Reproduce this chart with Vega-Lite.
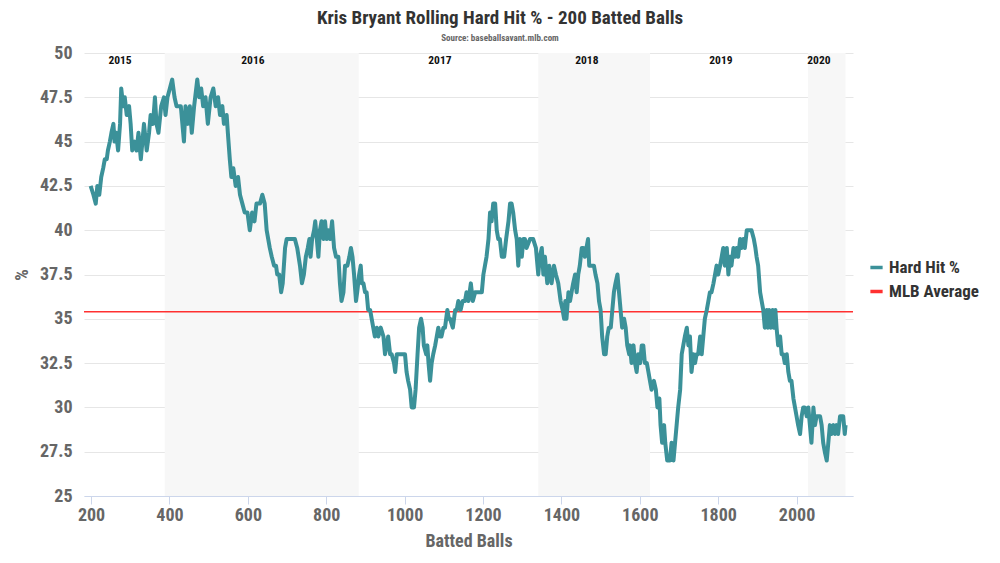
{
  "$schema": "https://vega.github.io/schema/vega-lite/v6.json",
  "width": 769,
  "height": 443,
  "autosize": {"type": "none"},
  "padding": {"left": 84, "top": 53, "right": 147, "bottom": 67},
  "background": "white",
  "title": {
    "text": "Kris Bryant Rolling Hard Hit % - 200 Batted Balls",
    "subtitle": "Source: baseballsavant.mlb.com",
    "anchor": "middle",
    "dx": 31.5,
    "font": "Roboto Condensed, Liberation Sans Narrow, DejaVu Sans Condensed, Roboto",
    "fontSize": 19,
    "fontWeight": "bold",
    "color": "#333333",
    "subtitleFont": "Roboto Condensed, Liberation Sans Narrow, DejaVu Sans Condensed, Roboto",
    "subtitleFontSize": 9,
    "subtitleFontWeight": "bold",
    "subtitleColor": "#666666",
    "subtitlePadding": 6,
    "offset": 1
  },
  "config": {
    "view": {"stroke": null},
    "font": "Roboto Condensed, Liberation Sans Narrow, DejaVu Sans Condensed, Roboto",
    "axisY": {
      "grid": true,
      "gridColor": "#e6e6e6",
      "domain": false,
      "ticks": false,
      "labelFontSize": 18,
      "labelFontWeight": "bold",
      "labelColor": "#666666",
      "labelPadding": 12,
      "titleFontSize": 18,
      "titleFontWeight": "bold",
      "titleColor": "#666666",
      "titlePadding": 8
    },
    "axisX": {
      "grid": false,
      "domainColor": "#ccd6eb",
      "tickColor": "#ccd6eb",
      "tickSize": 8,
      "labelFontSize": 18,
      "labelFontWeight": "bold",
      "labelColor": "#666666",
      "labelPadding": 2,
      "titleFontSize": 18,
      "titleFontWeight": "bold",
      "titleColor": "#666666",
      "titlePadding": 8
    },
    "legend": {
      "orient": "none",
      "legendX": 784,
      "legendY": 206,
      "symbolType": "stroke",
      "symbolStrokeWidth": 3.5,
      "symbolSize": 150,
      "labelFontSize": 17,
      "labelFontWeight": "bold",
      "labelColor": "#333333",
      "rowPadding": 6,
      "title": null
    }
  },
  "datasets": {
    "bands": [
      {"s": 388, "e": 883},
      {"s": 1341, "e": 1626},
      {"s": 2029, "e": 2125}
    ],
    "years": [
      {"b": 274, "yr": "2015"},
      {"b": 613, "yr": "2016"},
      {"b": 1090, "yr": "2017"},
      {"b": 1465, "yr": "2018"},
      {"b": 1807, "yr": "2019"},
      {"b": 2057, "yr": "2020"}
    ],
    "rolling": [
      {"b": 199, "h": 42.5}, {"b": 206, "h": 42}, {"b": 212, "h": 41.5}, {"b": 216, "h": 42.5},
      {"b": 221, "h": 42}, {"b": 226, "h": 43}, {"b": 231, "h": 43.5}, {"b": 235, "h": 44},
      {"b": 240, "h": 44}, {"b": 243, "h": 44.5}, {"b": 248, "h": 45}, {"b": 252, "h": 45.5},
      {"b": 257, "h": 46}, {"b": 260, "h": 45}, {"b": 264, "h": 45.5}, {"b": 269, "h": 44.5},
      {"b": 274, "h": 46}, {"b": 277, "h": 48}, {"b": 282, "h": 47}, {"b": 286, "h": 47.5},
      {"b": 291, "h": 46.5}, {"b": 297, "h": 47}, {"b": 301, "h": 46}, {"b": 305, "h": 44.5},
      {"b": 311, "h": 45}, {"b": 316, "h": 44.5}, {"b": 321, "h": 45.5}, {"b": 327, "h": 44},
      {"b": 331, "h": 45}, {"b": 335, "h": 46}, {"b": 342, "h": 44.5}, {"b": 348, "h": 45.5},
      {"b": 352, "h": 46.5}, {"b": 358, "h": 46}, {"b": 363, "h": 47.5}, {"b": 367, "h": 46},
      {"b": 372, "h": 45.5}, {"b": 379, "h": 47}, {"b": 386, "h": 47.5}, {"b": 390, "h": 46.5},
      {"b": 395, "h": 47.5}, {"b": 401, "h": 48}, {"b": 407, "h": 48.5}, {"b": 413, "h": 47.5},
      {"b": 418, "h": 47}, {"b": 429, "h": 47}, {"b": 437, "h": 45}, {"b": 441, "h": 47},
      {"b": 447, "h": 46}, {"b": 452, "h": 47}, {"b": 457, "h": 45.5}, {"b": 463, "h": 47},
      {"b": 471, "h": 48.5}, {"b": 476, "h": 47.5}, {"b": 481, "h": 48}, {"b": 486, "h": 47},
      {"b": 492, "h": 47.5}, {"b": 498, "h": 46}, {"b": 505, "h": 47.5}, {"b": 512, "h": 48},
      {"b": 518, "h": 47}, {"b": 524, "h": 47.5}, {"b": 529, "h": 46.5}, {"b": 535, "h": 47},
      {"b": 539, "h": 46}, {"b": 546, "h": 46.5}, {"b": 549, "h": 45.5}, {"b": 554, "h": 44},
      {"b": 558, "h": 43}, {"b": 563, "h": 43.5}, {"b": 569, "h": 42.5}, {"b": 575, "h": 43},
      {"b": 580, "h": 42}, {"b": 586, "h": 41.5}, {"b": 592, "h": 41}, {"b": 599, "h": 41},
      {"b": 605, "h": 40}, {"b": 611, "h": 41}, {"b": 617, "h": 40.5}, {"b": 622, "h": 41.5},
      {"b": 631, "h": 41.5}, {"b": 637, "h": 42}, {"b": 643, "h": 41.5}, {"b": 648, "h": 40},
      {"b": 656, "h": 39}, {"b": 661, "h": 38.5}, {"b": 667, "h": 38}, {"b": 672, "h": 38},
      {"b": 675, "h": 37.5}, {"b": 680, "h": 37.5}, {"b": 685, "h": 36.5}, {"b": 689, "h": 37},
      {"b": 695, "h": 39}, {"b": 699, "h": 39.5}, {"b": 708, "h": 39.5}, {"b": 720, "h": 39.5},
      {"b": 726, "h": 39}, {"b": 733, "h": 38}, {"b": 738, "h": 37}, {"b": 743, "h": 37.5},
      {"b": 748, "h": 38.5}, {"b": 753, "h": 39}, {"b": 757, "h": 39.5}, {"b": 760, "h": 38.5},
      {"b": 764, "h": 39.5}, {"b": 769, "h": 40}, {"b": 772, "h": 40.5}, {"b": 776, "h": 39.5},
      {"b": 780, "h": 38.5}, {"b": 784, "h": 40}, {"b": 788, "h": 40.5}, {"b": 793, "h": 39.5},
      {"b": 797, "h": 40.5}, {"b": 801, "h": 39.5}, {"b": 805, "h": 40}, {"b": 810, "h": 39.5},
      {"b": 815, "h": 40.5}, {"b": 820, "h": 39}, {"b": 825, "h": 38.5}, {"b": 831, "h": 38.5},
      {"b": 835, "h": 37}, {"b": 839, "h": 36}, {"b": 844, "h": 36.5}, {"b": 848, "h": 38},
      {"b": 854, "h": 38}, {"b": 859, "h": 38.5}, {"b": 863, "h": 39}, {"b": 867, "h": 38.5},
      {"b": 871, "h": 37.5}, {"b": 876, "h": 36}, {"b": 879, "h": 36.5}, {"b": 884, "h": 37.5},
      {"b": 888, "h": 38}, {"b": 891, "h": 37}, {"b": 895, "h": 37}, {"b": 899, "h": 36.5},
      {"b": 903, "h": 36.5}, {"b": 907, "h": 35.5}, {"b": 912, "h": 35.5}, {"b": 916, "h": 35},
      {"b": 920, "h": 34.5}, {"b": 924, "h": 34}, {"b": 929, "h": 34.5}, {"b": 933, "h": 34},
      {"b": 939, "h": 34.5}, {"b": 946, "h": 34}, {"b": 950, "h": 33}, {"b": 954, "h": 33.5},
      {"b": 958, "h": 34}, {"b": 963, "h": 33}, {"b": 967, "h": 33}, {"b": 973, "h": 32.5},
      {"b": 976, "h": 32}, {"b": 980, "h": 33}, {"b": 993, "h": 33}, {"b": 1001, "h": 33},
      {"b": 1005, "h": 32}, {"b": 1009, "h": 31.5}, {"b": 1014, "h": 31}, {"b": 1018, "h": 30},
      {"b": 1024, "h": 30}, {"b": 1028, "h": 31}, {"b": 1033, "h": 33}, {"b": 1037, "h": 34.5},
      {"b": 1042, "h": 35}, {"b": 1046, "h": 34.5}, {"b": 1049, "h": 33.5}, {"b": 1055, "h": 33},
      {"b": 1058, "h": 33.5}, {"b": 1061, "h": 32.5}, {"b": 1065, "h": 31.5}, {"b": 1069, "h": 32.5},
      {"b": 1073, "h": 33}, {"b": 1078, "h": 33.5}, {"b": 1082, "h": 34}, {"b": 1086, "h": 34.5},
      {"b": 1090, "h": 34}, {"b": 1094, "h": 34}, {"b": 1099, "h": 34.5}, {"b": 1103, "h": 34.5},
      {"b": 1109, "h": 35.5}, {"b": 1113, "h": 35}, {"b": 1116, "h": 35}, {"b": 1123, "h": 34.5},
      {"b": 1129, "h": 35.5}, {"b": 1133, "h": 35.5}, {"b": 1137, "h": 36}, {"b": 1143, "h": 35.5},
      {"b": 1148, "h": 36}, {"b": 1154, "h": 36}, {"b": 1158, "h": 36.5}, {"b": 1163, "h": 36},
      {"b": 1169, "h": 37}, {"b": 1174, "h": 36}, {"b": 1180, "h": 36.5}, {"b": 1188, "h": 36.5},
      {"b": 1197, "h": 36.5}, {"b": 1201, "h": 37.5}, {"b": 1205, "h": 38}, {"b": 1209, "h": 38.5},
      {"b": 1214, "h": 39.5}, {"b": 1218, "h": 41}, {"b": 1222, "h": 40.5}, {"b": 1226, "h": 41.5},
      {"b": 1231, "h": 41.5}, {"b": 1235, "h": 40}, {"b": 1239, "h": 39.5}, {"b": 1243, "h": 39.5},
      {"b": 1248, "h": 38.5}, {"b": 1254, "h": 38.5}, {"b": 1259, "h": 39.5}, {"b": 1265, "h": 40.5},
      {"b": 1269, "h": 41.5}, {"b": 1273, "h": 41.5}, {"b": 1277, "h": 41}, {"b": 1282, "h": 40},
      {"b": 1286, "h": 39.5}, {"b": 1290, "h": 38}, {"b": 1294, "h": 39.5}, {"b": 1299, "h": 38.5},
      {"b": 1303, "h": 39.5}, {"b": 1307, "h": 39.5}, {"b": 1311, "h": 39}, {"b": 1320, "h": 39.5},
      {"b": 1328, "h": 39.5}, {"b": 1335, "h": 39}, {"b": 1341, "h": 37.5}, {"b": 1345, "h": 38.5},
      {"b": 1350, "h": 39}, {"b": 1354, "h": 37.5}, {"b": 1358, "h": 38.5}, {"b": 1364, "h": 37},
      {"b": 1369, "h": 38}, {"b": 1375, "h": 37}, {"b": 1381, "h": 38}, {"b": 1386, "h": 37.5},
      {"b": 1392, "h": 37}, {"b": 1398, "h": 36}, {"b": 1403, "h": 35.5}, {"b": 1407, "h": 35},
      {"b": 1410, "h": 36}, {"b": 1413, "h": 35}, {"b": 1418, "h": 36.5}, {"b": 1422, "h": 36},
      {"b": 1426, "h": 36.5}, {"b": 1430, "h": 37}, {"b": 1435, "h": 37.5}, {"b": 1439, "h": 36.5},
      {"b": 1443, "h": 37.5}, {"b": 1447, "h": 38}, {"b": 1452, "h": 39}, {"b": 1456, "h": 39},
      {"b": 1460, "h": 38.5}, {"b": 1464, "h": 39}, {"b": 1468, "h": 39.5}, {"b": 1471, "h": 38},
      {"b": 1477, "h": 38}, {"b": 1483, "h": 38}, {"b": 1487, "h": 37.5}, {"b": 1492, "h": 37},
      {"b": 1496, "h": 36}, {"b": 1500, "h": 35.5}, {"b": 1504, "h": 34}, {"b": 1509, "h": 33},
      {"b": 1513, "h": 33}, {"b": 1517, "h": 34}, {"b": 1521, "h": 34.5}, {"b": 1526, "h": 34.5},
      {"b": 1530, "h": 35.5}, {"b": 1534, "h": 36.5}, {"b": 1538, "h": 37}, {"b": 1543, "h": 37.5},
      {"b": 1547, "h": 36.5}, {"b": 1551, "h": 35.5}, {"b": 1555, "h": 34.5}, {"b": 1560, "h": 35},
      {"b": 1564, "h": 34.5}, {"b": 1568, "h": 33.5}, {"b": 1573, "h": 33}, {"b": 1575, "h": 33.5},
      {"b": 1579, "h": 32.5}, {"b": 1584, "h": 33.5}, {"b": 1588, "h": 32.5}, {"b": 1592, "h": 32},
      {"b": 1596, "h": 33}, {"b": 1601, "h": 32.5}, {"b": 1605, "h": 33.5}, {"b": 1609, "h": 33.5},
      {"b": 1613, "h": 32.5}, {"b": 1618, "h": 32.5}, {"b": 1622, "h": 32}, {"b": 1626, "h": 31.5},
      {"b": 1630, "h": 31}, {"b": 1636, "h": 31.5}, {"b": 1641, "h": 31}, {"b": 1645, "h": 30},
      {"b": 1650, "h": 30.5}, {"b": 1653, "h": 29}, {"b": 1657, "h": 28}, {"b": 1662, "h": 29},
      {"b": 1665, "h": 28}, {"b": 1670, "h": 27}, {"b": 1677, "h": 27}, {"b": 1681, "h": 28},
      {"b": 1686, "h": 27}, {"b": 1690, "h": 28}, {"b": 1694, "h": 29}, {"b": 1698, "h": 30},
      {"b": 1703, "h": 31}, {"b": 1707, "h": 33}, {"b": 1711, "h": 33.5}, {"b": 1715, "h": 34},
      {"b": 1720, "h": 34.5}, {"b": 1724, "h": 33.5}, {"b": 1728, "h": 34}, {"b": 1732, "h": 32},
      {"b": 1737, "h": 33}, {"b": 1741, "h": 32.5}, {"b": 1745, "h": 33}, {"b": 1749, "h": 33},
      {"b": 1754, "h": 34}, {"b": 1758, "h": 33}, {"b": 1762, "h": 34}, {"b": 1766, "h": 35},
      {"b": 1771, "h": 35.5}, {"b": 1775, "h": 36}, {"b": 1779, "h": 36.5}, {"b": 1783, "h": 36.5},
      {"b": 1788, "h": 37}, {"b": 1792, "h": 37.5}, {"b": 1796, "h": 38}, {"b": 1800, "h": 37.5},
      {"b": 1805, "h": 38}, {"b": 1809, "h": 38.5}, {"b": 1813, "h": 39}, {"b": 1817, "h": 38},
      {"b": 1822, "h": 39}, {"b": 1826, "h": 37.5}, {"b": 1830, "h": 38.5}, {"b": 1834, "h": 38},
      {"b": 1839, "h": 39}, {"b": 1843, "h": 38.5}, {"b": 1847, "h": 39}, {"b": 1851, "h": 38.5},
      {"b": 1856, "h": 39.5}, {"b": 1860, "h": 39}, {"b": 1864, "h": 39.5}, {"b": 1868, "h": 39},
      {"b": 1873, "h": 40}, {"b": 1877, "h": 40}, {"b": 1885, "h": 40}, {"b": 1891, "h": 39.5},
      {"b": 1895, "h": 39}, {"b": 1898, "h": 38.5}, {"b": 1902, "h": 38}, {"b": 1907, "h": 36.5},
      {"b": 1911, "h": 36}, {"b": 1915, "h": 35.5}, {"b": 1919, "h": 34.5}, {"b": 1924, "h": 35.5},
      {"b": 1927, "h": 34.5}, {"b": 1930, "h": 35.5}, {"b": 1934, "h": 34.5}, {"b": 1939, "h": 35.5},
      {"b": 1942, "h": 34.5}, {"b": 1946, "h": 35.5}, {"b": 1949, "h": 34.5}, {"b": 1953, "h": 33.5},
      {"b": 1958, "h": 34}, {"b": 1962, "h": 33}, {"b": 1966, "h": 33}, {"b": 1970, "h": 32.5},
      {"b": 1975, "h": 33}, {"b": 1979, "h": 32}, {"b": 1983, "h": 31.5}, {"b": 1987, "h": 31.5},
      {"b": 1992, "h": 30.5}, {"b": 1996, "h": 30}, {"b": 2000, "h": 29.5}, {"b": 2004, "h": 29},
      {"b": 2009, "h": 28.5}, {"b": 2013, "h": 29.5}, {"b": 2017, "h": 30}, {"b": 2021, "h": 30},
      {"b": 2026, "h": 29.5}, {"b": 2030, "h": 30}, {"b": 2034, "h": 29}, {"b": 2038, "h": 28},
      {"b": 2043, "h": 30}, {"b": 2047, "h": 29}, {"b": 2051, "h": 29.5}, {"b": 2055, "h": 29.5},
      {"b": 2060, "h": 29.5}, {"b": 2064, "h": 29}, {"b": 2068, "h": 28}, {"b": 2072, "h": 27.5},
      {"b": 2077, "h": 27}, {"b": 2081, "h": 28}, {"b": 2085, "h": 29}, {"b": 2089, "h": 28.5},
      {"b": 2094, "h": 29}, {"b": 2098, "h": 28.5}, {"b": 2102, "h": 29}, {"b": 2106, "h": 28.5},
      {"b": 2111, "h": 29.5}, {"b": 2119, "h": 29.5}, {"b": 2123, "h": 28.5}, {"b": 2125, "h": 29}
    ],
    "mlb": [{"avg": 35.4}]
  },
  "layer": [
    {
      "data": {"name": "bands"},
      "mark": {"type": "rect", "color": "#f7f7f7"},
      "encoding": {
        "x": {"field": "s", "type": "quantitative", "title": "Batted Balls", "scale": {"domain": [182, 2144], "nice": false, "zero": false}, "axis": {"values": [200, 400, 600, 800, 1000, 1200, 1400, 1600, 1800, 2000], "format": "d"}},
        "x2": {"field": "e"},
        "y": {"datum": 25, "type": "quantitative", "title": "%", "scale": {"domain": [25, 50], "nice": false, "zero": false}, "axis": {"values": [25, 27.5, 30, 32.5, 35, 37.5, 40, 42.5, 45, 47.5, 50], "format": ".3~g"}},
        "y2": {"datum": 50}
      }
    },
    {
      "data": {"name": "years"},
      "mark": {"type": "text", "fontSize": 11.5, "fontWeight": "bold", "color": "#111111", "baseline": "middle"},
      "encoding": {
        "x": {"field": "b", "type": "quantitative", "title": "Batted Balls", "axis": {"values": [200, 400, 600, 800, 1000, 1200, 1400, 1600, 1800, 2000], "format": "d"}},
        "y": {"datum": 49.55, "type": "quantitative", "title": "%", "axis": {"values": [25, 27.5, 30, 32.5, 35, 37.5, 40, 42.5, 45, 47.5, 50], "format": ".3~g"}},
        "text": {"field": "yr"}
      }
    },
    {
      "data": {"name": "mlb"},
      "mark": {"type": "rule", "strokeWidth": 1.5},
      "encoding": {
        "y": {"field": "avg", "type": "quantitative", "title": "%", "axis": {"values": [25, 27.5, 30, 32.5, 35, 37.5, 40, 42.5, 45, 47.5, 50], "format": ".3~g"}},
        "color": {"datum": "MLB Average", "type": "nominal", "scale": {"domain": ["Hard Hit %", "MLB Average"], "range": ["#3b9199", "#ff3030"]}}
      }
    },
    {
      "data": {"name": "rolling"},
      "mark": {"type": "line", "strokeWidth": 4, "strokeJoin": "round"},
      "encoding": {
        "x": {"field": "b", "type": "quantitative", "title": "Batted Balls", "axis": {"values": [200, 400, 600, 800, 1000, 1200, 1400, 1600, 1800, 2000], "format": "d"}},
        "y": {"field": "h", "type": "quantitative", "title": "%", "axis": {"values": [25, 27.5, 30, 32.5, 35, 37.5, 40, 42.5, 45, 47.5, 50], "format": ".3~g"}},
        "color": {"datum": "Hard Hit %", "type": "nominal"}
      }
    }
  ]
}
